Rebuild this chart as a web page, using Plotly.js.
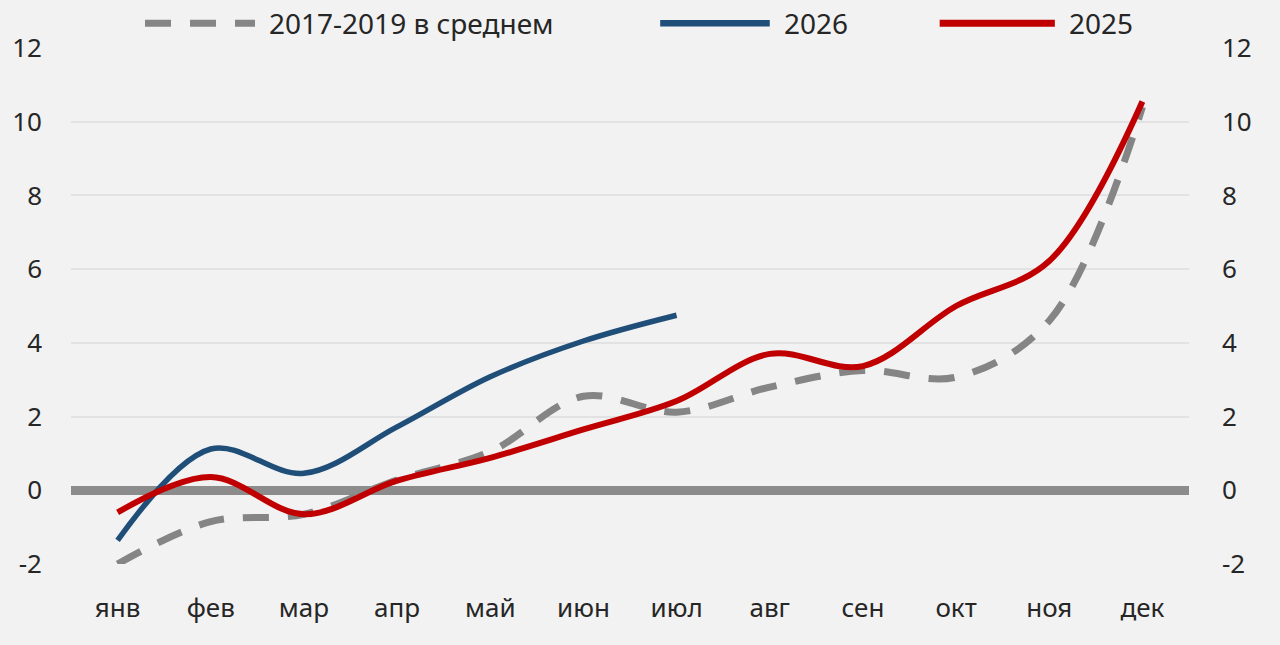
<!DOCTYPE html>
<html>
<head>
<meta charset="utf-8">
<script src="https://cdn.plot.ly/plotly-3.0.1.min.js"></script>
<style>html,body{margin:0;padding:0;background:#f2f2f2;}#chart{width:1280px;height:645px;}</style>
</head>
<body>
<div id="chart"></div>
<script>
const months = ["янв","фев","мар","апр","май","июн","июл","авг","сен","окт","ноя","дек"];
const avg2017_2019 = [-2.0, -0.85, -0.65, 0.28, 1.05, 2.55, 2.12, 2.8, 3.25, 3.07, 4.6, 10.4];
const y2026 = [-1.36, 1.12, 0.46, 1.72, 3.08, 4.05, 4.75];
const y2025 = [-0.6, 0.36, -0.65, 0.26, 0.88, 1.65, 2.42, 3.7, 3.37, 5.0, 6.22, 10.55];
const names = ["2017-2019 в среднем", "2026", "2025"];
const tickVals = [-2, 0, 2, 4, 6, 8, 10, 12];
const tickText = ["-2", "0", "2", "4", "6", "8", "10", "12"];

const colors = ["#858585", "#1f4e79", "#c00000"];
const widths = [7, 5.5, 6];
const dashes = ["26px,19px", "solid", "solid"];

const font = {family: "'Noto Sans', 'Open Sans', sans-serif", size: 26, color: "#262626"};
const legendFont = {family: "'Noto Sans', 'Open Sans', sans-serif", size: 28, color: "#262626"};

const traces = [
  {x: months, y: avg2017_2019, name: names[0], type: "scatter", mode: "lines",
   line: {color: colors[0], width: widths[0], dash: dashes[0], shape: "spline", smoothing: 1}},
  {x: months.slice(0, y2026.length), y: y2026, name: names[1], type: "scatter", mode: "lines",
   line: {color: colors[1], width: widths[1], shape: "spline", smoothing: 1}},
  {x: months, y: y2025, name: names[2], type: "scatter", mode: "lines", yaxis: "y2",
   line: {color: colors[2], width: widths[2], shape: "spline", smoothing: 1}}
];

// Custom legend (paper coordinates) to reproduce the long legend keys
const legendY = 1.048;
const legendKeys = [[0.0662, 0.1646], [0.527, 0.625], [0.777, 0.880]];
const legendTextX = [0.1753, 0.636, 0.891];
const shapes = legendKeys.map((k, i) => ({
  type: "line", xref: "paper", yref: "paper", x0: k[0], x1: k[1], y0: legendY, y1: legendY,
  line: {color: colors[i], width: widths[i] + (i === 0 ? 0 : 1), dash: dashes[i]}
}));
const annotations = names.map((n, i) => ({
  text: n, xref: "paper", yref: "paper", x: legendTextX[i], y: legendY,
  xanchor: "left", yanchor: "middle", showarrow: false, font: legendFont
}));

const layout = {
  width: 1280, height: 645,
  paper_bgcolor: "#f2f2f2", plot_bgcolor: "#f2f2f2",
  margin: {l: 71, r: 91, t: 48, b: 81, autoexpand: false},
  font: font,
  showlegend: false,
  shapes: shapes,
  annotations: annotations,
  xaxis: {type: "category", range: [-0.5, 11.5], showgrid: false, zeroline: false,
          showline: false, ticks: "", ticklabelstandoff: 26, tickfont: font, fixedrange: true},
  yaxis: {range: [-2, 12], tickvals: tickVals, ticktext: tickText, showgrid: true, gridcolor: "#e2e2e2", gridwidth: 2,
          zeroline: true, zerolinecolor: "#8c8c8c", zerolinewidth: 9, showline: false, ticks: "",
          ticklabelstandoff: 28, tickfont: font},
  yaxis2: {range: [-2, 12], tickvals: tickVals, ticktext: tickText, overlaying: "y", side: "right", showgrid: false,
           zeroline: false, showline: false, ticks: "", ticklabelstandoff: 32, tickfont: font}
};

Plotly.newPlot("chart", traces, layout, {displayModeBar: false, staticPlot: true});
</script>
</body>
</html>
